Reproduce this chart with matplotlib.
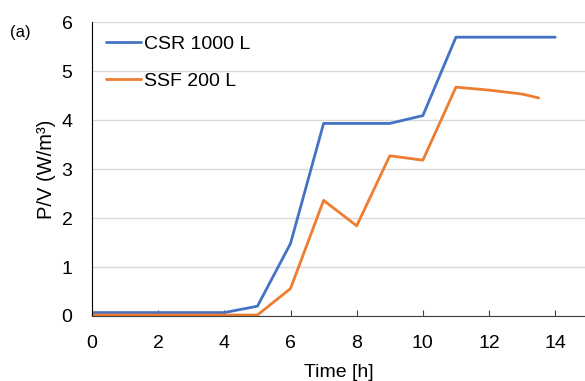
import matplotlib
matplotlib.use("Agg")
import matplotlib.pyplot as plt

csr_t = [0, 1, 2, 3, 4, 5, 6, 7, 8, 9, 10, 11, 12, 13, 14]
csr_pv = [0.07, 0.07, 0.07, 0.07, 0.07, 0.2, 1.48, 3.93, 3.93, 3.93, 4.09, 5.69, 5.69, 5.69, 5.69]
ssf_t = [0, 1, 2, 3, 4, 5, 6, 7, 8, 9, 10, 11, 12, 13, 13.5]
ssf_pv = [0.02, 0.02, 0.02, 0.02, 0.02, 0.02, 0.56, 2.36, 1.84, 3.27, 3.18, 4.67, 4.61, 4.53, 4.45]

plt.rcParams['font.family'] = ['Liberation Sans', 'DejaVu Sans']

fig = plt.figure(figsize=(5.85, 3.81), dpi=100)
ax = fig.add_axes([92/585, 1-316/381, 1-92/585, (316-22)/381])

ax.plot(csr_t, csr_pv, color='#4472C4', lw=2, label='CSR 1000 L', solid_capstyle='round')
ax.plot(ssf_t, ssf_pv, color='#ED7D31', lw=2, label='SSF 200 L', solid_capstyle='round')

ax.set_xlim(0, 14.9)
ax.set_ylim(0, 6)
ax.set_xticks(range(0, 15, 2))
ax.set_yticks(range(0, 7))
ax.grid(axis='y', color='#D9D9D9', lw=1)
ax.set_axisbelow(True)
for s in ['top', 'right']:
    ax.spines[s].set_visible(False)
ax.spines['left'].set_color('black')
ax.spines['bottom'].set_color('#404040')
ax.tick_params(axis='x', direction='in', length=4, labelsize=14, color='#404040', pad=14)
ax.tick_params(axis='y', length=0, labelsize=14, pad=14)
ax.set_xlabel('Time [h]', fontsize=14, labelpad=8)
ax.set_ylabel('P/V (W/m³)', fontsize=14.5, labelpad=4)

ax.legend(loc='upper left', bbox_to_anchor=(0.0, 1.0), frameon=False, fontsize=14,
          handlelength=1.8, handletextpad=0.2, labelspacing=1.0, borderaxespad=0.3,
          borderpad=0.4)

fig.text(10/585, 1-33/381, '(a)', fontsize=12, va='center', ha='left')

fig.savefig('out.png', dpi=100)
